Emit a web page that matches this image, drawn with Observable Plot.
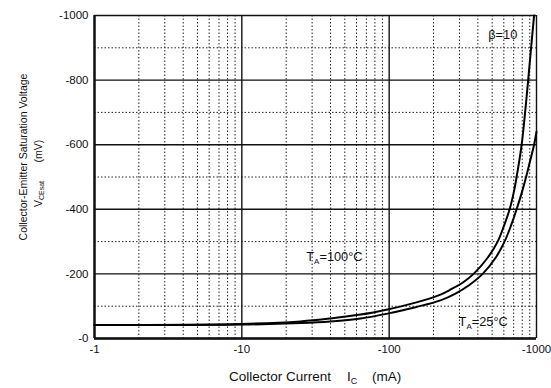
<!DOCTYPE html>
<html><head><meta charset="utf-8">
<script src="https://cdn.jsdelivr.net/npm/d3@7"></script>
<script src="https://cdn.jsdelivr.net/npm/@observablehq/plot@0.6"></script>
<style>
html,body{margin:0;padding:0;background:#fff;}
#chart{width:551px;height:388px;}
</style>
</head><body><div id="chart"></div>
<script>
// Collector current |Ic| (mA) and saturation voltage |VCE(sat)| (mV)
const ic100 = [1, 10, 25, 40, 64, 97.5, 151, 223, 257, 320, 374, 466, 545, 603, 657, 699, 733, 793, 837, 878, 919, 963];
const vce100 = [42, 45, 53, 62, 74, 90, 111, 136, 150, 175, 200, 250, 300, 350, 400, 450, 500, 600, 700, 800, 900, 1000];
const ic25 = [1, 10, 25, 40, 64, 97.5, 151, 223, 282, 346, 431, 528, 607, 672, 733, 793, 850, 905, 963, 1000];
const vce25 = [42, 43, 48, 53, 62, 77, 97, 118, 139, 164, 200, 250, 300, 350, 400, 450, 500, 550, 600, 640];
const seriesNames = ["TA=100°C", "TA=25°C"];

const xTicks = [1, 10, 100, 1000];
const yTicks = [0, 200, 400, 600, 800, 1000];
const yMinor = [100, 300, 500, 700, 900];
const xMinor = [];
for (const dec of [1, 10, 100]) for (let m = 2; m <= 9; m++) xMinor.push(m * dec);

const annotations = [
  {x: 590, y: 940, text: "β=10"},
  {x: 42.5, y: 254, text: "TA=100°C"},
  {x: 435, y: 50, text: "TA=25°C"}
];

const data = [
  ...ic100.map((ic, i) => ({series: seriesNames[0], ic, v: vce100[i]})),
  ...ic25.map((ic, i) => ({series: seriesNames[1], ic, v: vce25[i]}))
];

const neg = d => "-" + d;
const dotted = {stroke: "#222", strokeWidth: 1, strokeDasharray: "1.5,2"};
const solid = {stroke: "#111", strokeWidth: 1.4};
const FONT = "'Liberation Sans', Arial, sans-serif";

const plot = Plot.plot({
  width: 551, height: 388,
  marginLeft: 94, marginRight: 15, marginTop: 15, marginBottom: 50,
  style: {fontFamily: FONT, fontSize: "11.5px", color: "#111", background: "#fff"},
  x: {type: "log", domain: [1, 1000], label: null},
  y: {domain: [0, 1000], label: null},
  marks: [
    Plot.ruleX(xMinor, dotted),
    Plot.ruleY(yMinor, dotted),
    Plot.ruleX(xTicks, solid),
    Plot.ruleY(yTicks, solid),
    Plot.ruleX([1], {stroke: "#111", strokeWidth: 2.4}),
    Plot.ruleY([0], {stroke: "#111", strokeWidth: 2.4}),
    Plot.axisX({ticks: xTicks, tickSize: 0, tickPadding: 6, tickFormat: neg, label: null}),
    Plot.axisY({ticks: yTicks, tickSize: 0, tickPadding: 6, tickFormat: neg, label: null}),
    Plot.line(data, {x: "ic", y: "v", z: "series", curve: "catmull-rom", stroke: "#000", strokeWidth: 2}),
    Plot.text(annotations, {x: "x", y: "y", text: "text", fill: "#111", fontSize: 12.8, textAnchor: "middle"})
  ]
});

// subscript rendering for annotation text
const svg = d3.select(plot);
svg.selectAll("text").each(function() {
  const t = this.textContent;
  if (t.startsWith("TA=")) {
    const el = d3.select(this);
    el.text(null);
    el.append("tspan").text("T");
    el.append("tspan").attr("font-size", "8px").attr("dy", "3").text("A");
    el.append("tspan").attr("dy", "-3").text(t.slice(2));
  }
});

// axis titles
const yt = svg.append("g").attr("font-family", FONT).attr("font-size", "10.5px").attr("fill", "#111").attr("text-anchor", "middle");
yt.append("text").attr("transform", "translate(27,157) rotate(-90)").text("Collector-Emitter Saturation Voltage");
const l2 = yt.append("text").attr("transform", "translate(42,194) rotate(-90)");
l2.append("tspan").text("V");
l2.append("tspan").attr("font-size", "7px").attr("dy", "2").text("CEsat");
yt.append("text").attr("transform", "translate(42,151) rotate(-90)").text("(mV)");

const xt = svg.append("text").attr("font-family", FONT).attr("font-size", "13.5px").attr("fill", "#111").attr("text-anchor", "start").attr("y", 381);
xt.append("tspan").attr("x", 229).text("Collector Current");
xt.append("tspan").attr("x", 347).text("I");
xt.append("tspan").attr("font-size", "9px").attr("dy", "3").text("C");
xt.append("tspan").attr("x", 372).attr("dy", "-3").text("(mA)");

document.getElementById("chart").appendChild(plot);
</script>
</body></html>
